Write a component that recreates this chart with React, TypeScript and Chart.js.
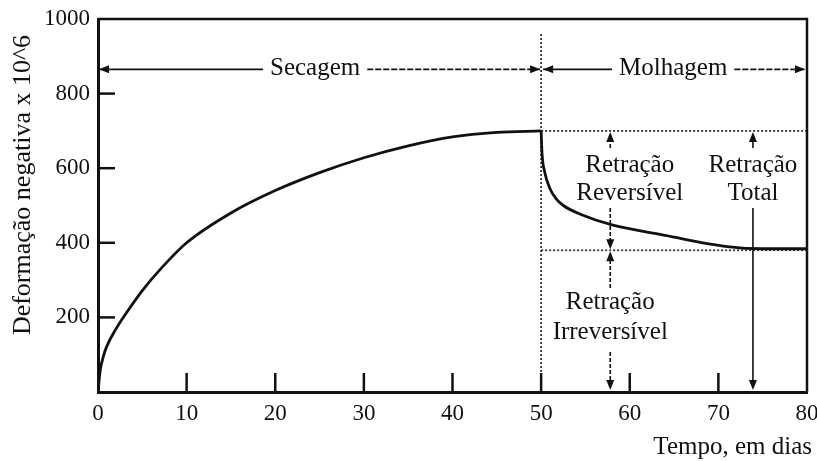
import React, { useEffect, useRef } from 'react';
import { Chart, registerables } from 'chart.js';

Chart.register(...registerables);

// ---- data ----
const dryingDays = [0, 0.25, 0.6, 1, 2, 3, 5, 7, 10, 15, 20, 25, 30, 35, 40, 45, 50];
const dryingStrain = [0, 58, 95, 123, 168, 205, 272, 328, 400, 480, 540, 588, 628, 660, 684, 696, 700];
const wettingDays = [50, 50.1, 50.4, 51, 51.7, 52.5, 54.5, 58, 64, 71, 75, 80];
const wettingStrain = [700, 640, 590, 545, 518, 500, 476, 448, 420, 390, 384, 384];
const xTickValues = [0, 10, 20, 30, 40, 50, 60, 70, 80];
const yTickValues = [200, 400, 600, 800, 1000];
const phaseChangeDay = 50;
const lastDay = 80;
const peakStrain = 700;
const residualStrain = 380;
const phaseArrowLevel = 865;
const dividerTop = 965;
const phaseLabels = ['Secagem', 'Molhagem'];
const reversibleLabel = ['Retração', 'Reversível'];
const irreversibleLabel = ['Retração', 'Irreversível'];
const totalLabel = ['Retração', 'Total'];
const xTitle = 'Tempo, em dias';
const yTitle = 'Deformação negativa x 10^6';

const FONT = '"Liberation Serif", "Times New Roman", serif';
const INK = '#111';

function arrowHead(ctx: CanvasRenderingContext2D, tx: number, ty: number, dir: string) {
  const L = 10;
  const W = 4;
  ctx.beginPath();
  ctx.moveTo(tx, ty);
  if (dir === 'left') { ctx.lineTo(tx + L, ty - W); ctx.lineTo(tx + L, ty + W); }
  if (dir === 'right') { ctx.lineTo(tx - L, ty - W); ctx.lineTo(tx - L, ty + W); }
  if (dir === 'up') { ctx.lineTo(tx - W, ty + L); ctx.lineTo(tx + W, ty + L); }
  if (dir === 'down') { ctx.lineTo(tx - W, ty - L); ctx.lineTo(tx + W, ty - L); }
  ctx.closePath();
  ctx.fill();
}

function seg(ctx: CanvasRenderingContext2D, x1: number, y1: number, x2: number, y2: number, dash: number[] = []) {
  ctx.setLineDash(dash);
  ctx.beginPath();
  ctx.moveTo(x1, y1);
  ctx.lineTo(x2, y2);
  ctx.stroke();
  ctx.setLineDash([]);
}

const annotationPlugin = {
  id: 'annotations',
  afterDatasetsDraw(chart: any) {
    const { ctx, chartArea: a, scales } = chart;
    const X = (v: number) => scales.x.getPixelForValue(v);
    const Y = (v: number) => scales.y.getPixelForValue(v);
    ctx.save();
    ctx.strokeStyle = INK;
    ctx.fillStyle = INK;

    // frame top & right
    ctx.lineWidth = 2.5;
    ctx.beginPath();
    ctx.moveTo(a.left, a.top);
    ctx.lineTo(a.right, a.top);
    ctx.lineTo(a.right, a.bottom);
    ctx.stroke();

    // inward tick marks
    ctx.lineWidth = 2.5;
    xTickValues.forEach((v) => {
      if (v === 0 || v === lastDay) return;
      seg(ctx, X(v), a.bottom, X(v), a.bottom - 19);
    });
    yTickValues.forEach((v) => {
      if (v === 1000) return;
      seg(ctx, a.left, Y(v), a.left + 17, Y(v));
    });

    // phase arrows
    ctx.lineWidth = 1.6;
    ctx.font = `25px ${FONT}`;
    ctx.textAlign = 'center';
    ctx.textBaseline = 'middle';
    const py = Y(phaseArrowLevel);
    const phase = (label: string, center: number, fromTip: number, toTip: number) => {
      const w = ctx.measureText(label).width;
      const cx = X(center);
      seg(ctx, fromTip, py, cx - w / 2 - 7, py);
      seg(ctx, cx + w / 2 + 7, py, toTip, py, [6, 2]);
      arrowHead(ctx, fromTip, py, 'left');
      arrowHead(ctx, toTip, py, 'right');
      ctx.fillText(label, cx, py - 1);
    };
    phase(phaseLabels[0], 24.5, X(0) + 1, X(phaseChangeDay) - 1);
    phase(phaseLabels[1], 64.9, X(phaseChangeDay) + 2, X(lastDay) - 2);

    // retraction arrows
    const revX = X(57.8);
    const totX = X(73.9);
    ctx.lineWidth = 1.6;
    // reversible
    seg(ctx, revX, Y(654), revX, Y(peakStrain) + 8, [4, 2]);
    arrowHead(ctx, revX, Y(peakStrain) + 1, 'up');
    seg(ctx, revX, Y(493), revX, Y(residualStrain) - 8, [4, 2]);
    arrowHead(ctx, revX, Y(residualStrain) - 1, 'down');
    // irreversible
    seg(ctx, revX, Y(279), revX, Y(residualStrain) + 8, [4, 2]);
    arrowHead(ctx, revX, Y(residualStrain) + 1, 'up');
    seg(ctx, revX, Y(107), revX, a.bottom - 8, [4, 2]);
    arrowHead(ctx, revX, a.bottom - 2, 'down');
    // total
    seg(ctx, totX, Y(654), totX, Y(peakStrain) + 8);
    arrowHead(ctx, totX, Y(peakStrain) + 1, 'up');
    seg(ctx, totX, Y(493), totX, a.bottom - 8);
    arrowHead(ctx, totX, a.bottom - 2, 'down');

    // retraction labels
    ctx.font = `25px ${FONT}`;
    const lines = (txt: string[], cx: number, v1: number, v2: number) => {
      ctx.fillText(txt[0], X(cx), Y(v1));
      ctx.fillText(txt[1], X(cx), Y(v2));
    };
    lines(reversibleLabel, 60.0, 608, 531);
    lines(totalLabel, 73.9, 608, 531);
    lines(irreversibleLabel, 57.8, 239, 161);

    // axis titles
    ctx.font = `25px ${FONT}`;
    ctx.textAlign = 'right';
    ctx.fillText(xTitle, 812, 447);
    ctx.save();
    ctx.font = `26px ${FONT}`;
    ctx.translate(23, 185);
    ctx.rotate(-Math.PI / 2);
    ctx.textAlign = 'center';
    ctx.fillText(yTitle, 0, 0);
    ctx.restore();

    ctx.restore();
  },
};

export default function App() {
  const ref = useRef<HTMLCanvasElement | null>(null);

  useEffect(() => {
    if (!ref.current) return;
    const dotted = {
      borderColor: '#333',
      borderWidth: 1.8,
      borderDash: [2, 2],
      pointRadius: 0,
      fill: false,
      order: 2,
    };
    const chart = new Chart(ref.current, {
      type: 'line',
      data: {
        datasets: [
          {
            label: 'Secagem',
            data: dryingDays.map((d, i) => ({ x: d, y: dryingStrain[i] })),
            borderColor: INK,
            borderWidth: 2.8,
            pointRadius: 0,
            cubicInterpolationMode: 'monotone',
            fill: false,
            order: 0,
          },
          {
            label: 'Molhagem',
            data: wettingDays.map((d, i) => ({ x: d, y: wettingStrain[i] })),
            borderColor: INK,
            borderWidth: 2.8,
            pointRadius: 0,
            cubicInterpolationMode: 'monotone',
            fill: false,
            order: 0,
          },
          { label: 'pico', data: [{ x: phaseChangeDay, y: peakStrain }, { x: lastDay, y: peakStrain }], ...dotted },
          { label: 'residual', data: [{ x: phaseChangeDay, y: residualStrain }, { x: lastDay, y: residualStrain }], ...dotted },
          { label: 'divisão', data: [{ x: phaseChangeDay, y: 0 }, { x: phaseChangeDay, y: dividerTop }], ...dotted },
        ] as any,
      },
      options: {
        animation: false,
        responsive: false,
        devicePixelRatio: 1,
        layout: { padding: { top: 19, right: 10, left: 0, bottom: 0 } },
        plugins: { legend: { display: false }, tooltip: { enabled: false } },
        scales: {
          x: {
            type: 'linear',
            min: 0,
            max: lastDay,
            afterBuildTicks: (s: any) => { s.ticks = xTickValues.map((v) => ({ value: v })); },
            afterFit: (s: any) => { s.height = 69; s.paddingRight = 0; s.paddingLeft = 0; },
            ticks: {
              font: { family: FONT, size: 23 },
              color: INK,
              padding: 8,
              maxRotation: 0,
              autoSkip: false,
              callback: (v: any) => String(v),
            },
            grid: { display: false, drawTicks: false },
            border: { display: true, color: INK, width: 3 },
          },
          y: {
            type: 'linear',
            min: 0,
            max: 1000,
            afterBuildTicks: (s: any) => { s.ticks = yTickValues.map((v) => ({ value: v })); },
            afterFit: (s: any) => { s.width = 98; s.paddingTop = 0; s.paddingBottom = 0; },
            ticks: {
              font: { family: FONT, size: 23 },
              color: INK,
              padding: 8,
              callback: (v: any) => String(v),
            },
            grid: { display: false, drawTicks: false },
            border: { display: true, color: INK, width: 3 },
          },
        },
      } as any,
      plugins: [annotationPlugin],
    });
    return () => chart.destroy();
  }, []);

  return (
    <div style={{ position: 'absolute', left: 0, top: 0, width: 817, height: 461, background: '#fff' }}>
      <canvas ref={ref} width={817} height={461} />
    </div>
  );
}
